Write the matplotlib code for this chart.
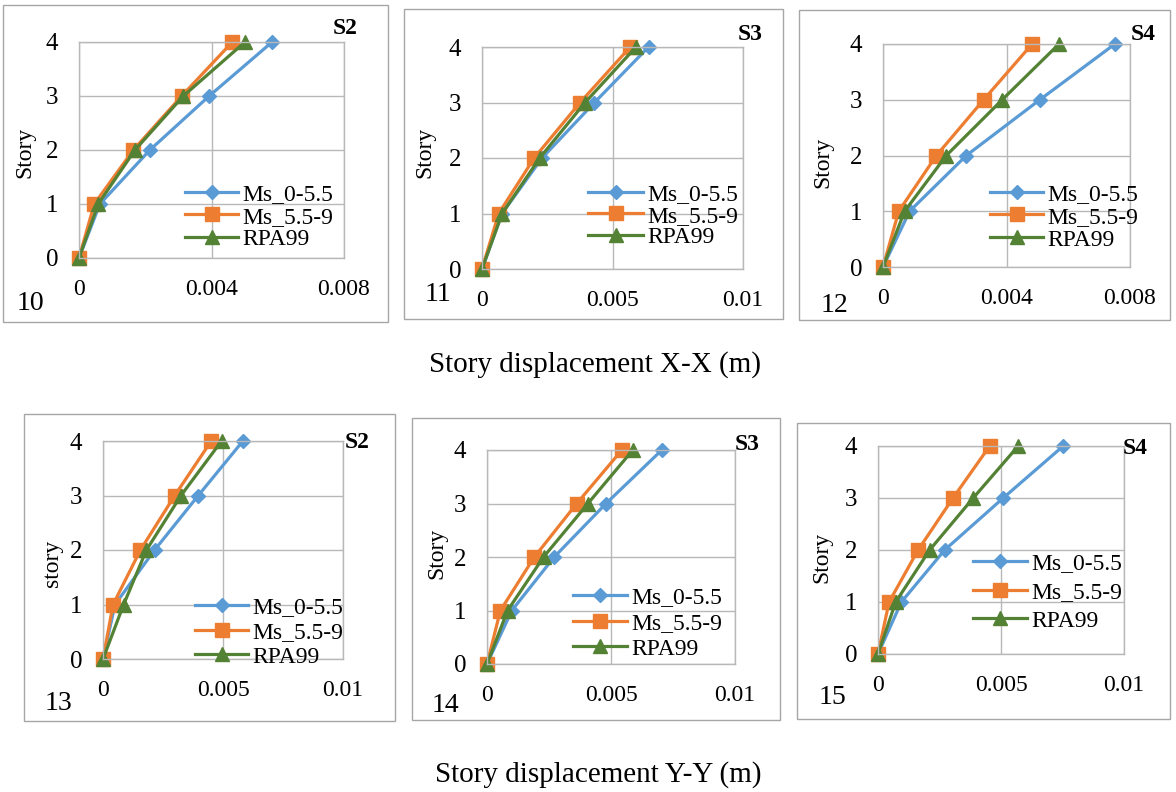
import matplotlib
matplotlib.use("Agg")
import matplotlib.pyplot as plt
from matplotlib.patches import Rectangle

plt.rcParams['font.family'] = ['Liberation Serif', 'DejaVu Serif']

W, H = 1176, 792

stories = [0, 1, 2, 3, 4]
series_labels = ["Ms_0-5.5", "Ms_5.5-9", "RPA99"]
series_colors = ["#5B9BD5", "#ED7D31", "#548235"]
series_markers = ["D", "s", "^"]
marker_sizes = [7.5, 9.5, 10]

# story displacement along X-X (m): Ms_0-5.5, Ms_5.5-9, RPA99
disp_xx_s2 = [[0, 0.00063, 0.00214, 0.00393, 0.00583],
              [0, 0.00046, 0.00164, 0.00310, 0.00463],
              [0, 0.00058, 0.00169, 0.00315, 0.00501]]
disp_xx_s3 = [[0, 0.00077, 0.00230, 0.00431, 0.00638],
              [0, 0.00064, 0.00200, 0.00376, 0.00568],
              [0, 0.00077, 0.00221, 0.00395, 0.00590]]
disp_xx_s4 = [[0, 0.00086, 0.00270, 0.00508, 0.00751],
              [0, 0.00051, 0.00173, 0.00326, 0.00483],
              [0, 0.00070, 0.00205, 0.00386, 0.00570]]

# story displacement along Y-Y (m)
disp_yy_s2 = [[0, 0.00050, 0.00215, 0.00397, 0.00583],
              [0, 0.00042, 0.00156, 0.00299, 0.00451],
              [0, 0.00086, 0.00181, 0.00325, 0.00494]]
disp_yy_s3 = [[0, 0.00100, 0.00271, 0.00480, 0.00705],
              [0, 0.00054, 0.00191, 0.00362, 0.00544],
              [0, 0.00083, 0.00228, 0.00407, 0.00588]]
disp_yy_s4 = [[0, 0.00095, 0.00271, 0.00509, 0.00753],
              [0, 0.00045, 0.00163, 0.00305, 0.00454],
              [0, 0.00072, 0.00210, 0.00387, 0.00570]]

xticks_a = [0, 0.004, 0.008]
xticklabels_a = ["0", "0.004", "0.008"]
xticks_b = [0, 0.005, 0.01]
xticklabels_b = ["0", "0.005", "0.01"]


def fx(x):
    return x / W


def fy(y):
    return 1 - y / H


# layout of each chart in pixels: frame box, plot area, labels, legend
panels = [
    dict(data=disp_xx_s2, tag="S2", num="10", ylabel="Story",
         ticks=xticks_a, ticklabels=xticklabels_a,
         box=(3, 5, 388, 322), plot=(79, 42, 344, 258),
         tag_xy=(345, 28), num_xy=(30, 303), ylab_xy=(25, 152),
         leg=(185, 217, 24.5, 53)),
    dict(data=disp_xx_s3, tag="S3", num="11", ylabel="Story",
         ticks=xticks_b, ticklabels=xticklabels_b,
         box=(404, 9, 783, 319), plot=(482, 47, 743, 269),
         tag_xy=(750, 34), num_xy=(438, 295), ylab_xy=(425, 152),
         leg=(588, 216, 23.5, 55)),
    dict(data=disp_xx_s4, tag="S4", num="12", ylabel="Story",
         ticks=xticks_a, ticklabels=xticklabels_a,
         box=(799, 10, 1170, 320), plot=(883, 44, 1130, 267),
         tag_xy=(1143, 35), num_xy=(834, 305), ylab_xy=(823, 162),
         leg=(990, 217, 25, 53)),
    dict(data=disp_yy_s2, tag="S2", num="13", ylabel="story",
         ticks=xticks_b, ticklabels=xticklabels_b,
         box=(24, 414, 395, 721), plot=(103, 441, 343, 659),
         tag_xy=(357, 443), num_xy=(58, 703), ylab_xy=(53, 563),
         leg=(195, 632, 27, 53)),
    dict(data=disp_yy_s3, tag="S3", num="14", ylabel="Story",
         ticks=xticks_b, ticklabels=xticklabels_b,
         box=(412, 418, 780, 720), plot=(487, 450, 735, 664),
         tag_xy=(747, 445), num_xy=(445, 705), ylab_xy=(437, 553),
         leg=(573, 623, 28, 54)),
    dict(data=disp_yy_s4, tag="S4", num="15", ylabel="Story",
         ticks=xticks_b, ticklabels=xticklabels_b,
         box=(797, 423, 1170, 719), plot=(878, 446, 1124, 654),
         tag_xy=(1135, 448), num_xy=(832, 697), ylab_xy=(822, 557),
         leg=(973, 592, 31, 54)),
]

fig = plt.figure(figsize=(W / 100, H / 100), dpi=100)
fig.patch.set_facecolor("white")

grid_color = "#B8B8B8"
leg_fs = 17
leg_px = leg_fs * 100 / 72

for p in panels:
    bx0, by0, bx1, by1 = p["box"]
    fig.patches.append(Rectangle((fx(bx0), fy(by1)), (bx1 - bx0) / W, (by1 - by0) / H,
                                 transform=fig.transFigure, fill=False,
                                 edgecolor="#A6A6A6", linewidth=1.0))

    l, t, r, b = p["plot"]
    ax = fig.add_axes([fx(l), fy(b), (r - l) / W, (b - t) / H])
    for vals, lab, col, mk, ms in zip(p["data"], series_labels, series_colors,
                                      series_markers, marker_sizes):
        ax.plot(vals, stories, color=col, marker=mk, markersize=ms, linewidth=2.3,
                label=lab, clip_on=False)

    ax.set_xlim(p["ticks"][0], p["ticks"][-1])
    ax.set_ylim(0, 4)
    ax.set_xticks(p["ticks"])
    ax.set_xticklabels(p["ticklabels"])
    ax.set_yticks(stories)
    ax.tick_params(axis="x", length=0, labelsize=17, pad=15)
    ax.tick_params(axis="y", length=0, labelsize=18, pad=15)
    ax.grid(True, color=grid_color, linewidth=1.0)
    ax.set_axisbelow(True)
    for s in ax.spines.values():
        s.set_color(grid_color)
        s.set_linewidth(1.0)

    lx, ly = p["ylab_xy"]
    fig.text(fx(lx), fy(ly), p["ylabel"], fontsize=17, rotation=90,
             ha="center", va="center")

    x0, ymid, spacing, hl = p["leg"]
    ax.legend(loc="center left", bbox_to_anchor=(fx(x0), fy(ymid)),
              bbox_transform=fig.transFigure, frameon=False, fontsize=leg_fs,
              borderpad=0, borderaxespad=0, handlelength=hl / leg_px,
              handletextpad=0.2, labelspacing=spacing / leg_px - 1.0)

    tx, ty = p["tag_xy"]
    fig.text(fx(tx), fy(ty), p["tag"], fontsize=17, fontweight="bold",
             ha="center", va="center")
    nx, ny = p["num_xy"]
    fig.text(fx(nx), fy(ny), p["num"], fontsize=20, ha="center", va="center")

fig.text(fx(595), fy(365), "Story displacement X-X (m)", fontsize=21,
         ha="center", va="center")
fig.text(fx(598), fy(775), "Story displacement Y-Y (m)", fontsize=21,
         ha="center", va="center")

fig.savefig("out.png", dpi=100)
